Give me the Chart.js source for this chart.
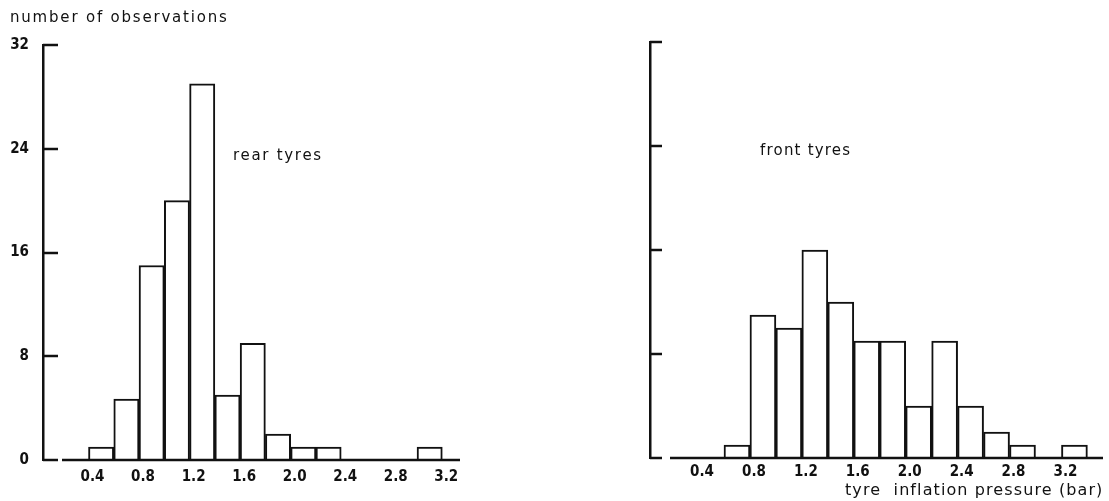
<!DOCTYPE html>
<html>
<head>
<meta charset="utf-8">
<script src="https://cdn.jsdelivr.net/npm/chart.js@4.4.1/dist/chart.umd.min.js"></script>
<style>
body{margin:0;background:#fff;}
#wrap{position:relative;width:1109px;height:501px;}
canvas{position:absolute;top:0;}
#rear{left:0;}
#front{left:555px;}
</style>
</head>
<body>
<div id="wrap">
<canvas id="rear" width="555" height="501"></canvas>
<canvas id="front" width="554" height="501"></canvas>
</div>
<script>
// histogram bins (lower edge, bar) and counts
const binWidth = 0.2;
const rearBins = [0.4, 0.6, 0.8, 1.0, 1.2, 1.4, 1.6, 1.8, 2.0, 2.2, 2.4, 2.6, 2.8, 3.0];
const rearCounts = [1, 4.7, 15, 20, 29, 5, 9, 2, 1, 1, 0, 0, 0, 1];
const frontBins = [0.6, 0.8, 1.0, 1.2, 1.4, 1.6, 1.8, 2.0, 2.2, 2.4, 2.6, 2.8, 3.0, 3.2];
const frontCounts = [1, 11, 10, 16, 12, 9, 9, 4, 9, 4, 2, 1, 0, 1];

const pressureTicks = [0.4, 0.8, 1.2, 1.6, 2.0, 2.4, 2.8, 3.2];
const pressureLabels = ['0.4', '0.8', '1.2', '1.6', '2.0', '2.4', '2.8', '3.2'];
const countTicks = [0, 8, 16, 24, 32];
const countLabels = ['0', '8', '16', '24', '32'];

const yTitle = 'number of observations';
const xTitle = 'tyre  inflation pressure (bar)';

const ink = '#111';
const tickFont = {family: 'DejaVu Sans Condensed', size: 15, weight: 'bold'};

function toPoints(bins, counts){
    return bins.map((b, i) => ({x: b + binWidth/2, y: counts[i]}));
}

// inward tick marks, baseline and free text
function axisMarks(opts){
    return {
        id: 'axisMarks',
        afterDatasetsDraw(chart){
            const ctx = chart.ctx, a = chart.chartArea;
            const y = chart.scales.y;
            ctx.save();
            ctx.strokeStyle = ink;
            ctx.lineWidth = 2.5;
            countTicks.forEach(v => {
                const py = Math.round(y.getPixelForValue(v));
                ctx.beginPath();
                ctx.moveTo(a.left, py);
                ctx.lineTo(a.left + opts.tick, py);
                ctx.stroke();
            });
            const by = Math.round(y.getPixelForValue(0));
            ctx.beginPath();
            ctx.moveTo(a.left + opts.gap, by);
            ctx.lineTo(a.right, by);
            ctx.stroke();
            ctx.fillStyle = ink;
            ctx.textBaseline = 'alphabetic';
            opts.texts.forEach(t => {
                ctx.font = t.font;
                ctx.letterSpacing = t.spacing + 'px';
                ctx.fillText(t.text, t.x, t.y);
            });
            ctx.restore();
        }
    };
}

function makeChart(id, bins, counts, cfg){
    const ctx = document.getElementById(id).getContext('2d');
    return new Chart(ctx, {
        type: 'bar',
        data: {
            datasets: [{
                data: toPoints(bins, counts),
                backgroundColor: '#fff',
                borderColor: ink,
                borderWidth: 2,
                borderSkipped: 'start',
                barPercentage: 1,
                categoryPercentage: 1
            }]
        },
        options: {
            responsive: false,
            animation: false,
            layout: {padding: cfg.padding},
            plugins: {legend: {display: false}, tooltip: {enabled: false}},
            scales: {
                x: {
                    type: 'linear',
                    offset: false,
                    min: cfg.xMin,
                    max: cfg.xMax,
                    grid: {display: false, drawTicks: false},
                    border: {display: false},
                    afterBuildTicks: s => { s.ticks = pressureTicks.map(v => ({value: v})); },
                    afterFit: s => { s.height = cfg.xHeight; },
                    ticks: {
                        color: ink,
                        font: tickFont,
                        padding: cfg.xPad,
                        labelOffset: 4,
                        maxRotation: 0,
                        autoSkip: false,
                        callback: (v, i) => pressureLabels[i]
                    }
                },
                y: {
                    min: 0,
                    max: 32,
                    grid: {display: false, drawTicks: false},
                    border: {display: true, color: ink, width: 2.5},
                    afterBuildTicks: s => { s.ticks = countTicks.map(v => ({value: v})); },
                    afterFit: s => { s.width = cfg.yWidth; },
                    ticks: {
                        color: ink,
                        font: tickFont,
                        padding: 14,
                        callback: (v, i) => cfg.yLabels ? countLabels[i] : ''
                    }
                }
            }
        },
        plugins: [axisMarks(cfg.marks)]
    });
}

makeChart('rear', rearBins, rearCounts, {
    padding: {top: 45, right: 95, left: 0, bottom: 0},
    xMin: 0.04, xMax: 3.34, xHeight: 41, xPad: 8, yWidth: 43, yLabels: true,
    marks: {
        tick: 15, gap: 19,
        texts: [
            {text: yTitle, x: 10, y: 22, font: '15px "DejaVu Sans"', spacing: 1.8},
            {text: 'rear tyres', x: 233, y: 160, font: '15px "DejaVu Sans"', spacing: 1.7}
        ]
    }
});

makeChart('front', frontBins, frontCounts, {
    padding: {top: 42, right: 6, left: 0, bottom: 0},
    xMin: 0.03, xMax: 3.52, xHeight: 43, xPad: 5, yWidth: 95, yLabels: false,
    marks: {
        tick: 12, gap: 20,
        texts: [
            {text: 'front tyres', x: 205, y: 155, font: '15px "DejaVu Sans"', spacing: 1.2},
            {text: xTitle, x: 290, y: 495, font: '16px "DejaVu Sans"', spacing: 1.1}
        ]
    }
});
</script>
</body>
</html>
